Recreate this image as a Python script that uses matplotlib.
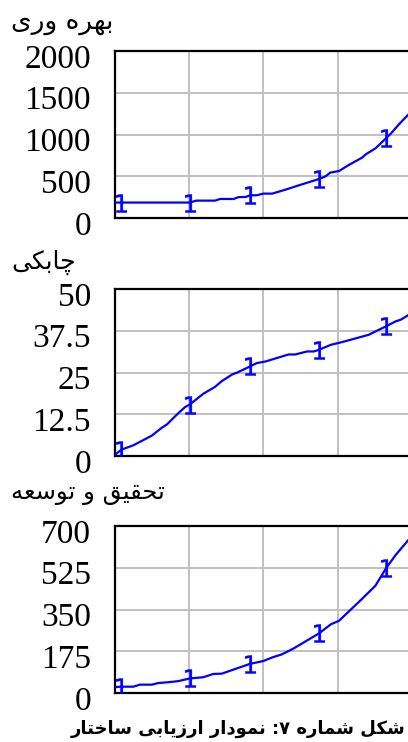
import matplotlib
matplotlib.use('Agg')
import matplotlib.pyplot as plt
from matplotlib.ticker import FormatStrFormatter
from matplotlib.transforms import ScaledTranslation

plt.rcParams['font.family'] = ['Liberation Serif', 'DejaVu Sans']

# time (grid every 10 units)
t_prod = [0, 0.9, 10.1, 11.0, 13.5, 14.2, 16.0, 16.7, 17.6, 18.2, 19.1, 20.0, 21.2,
          23.0, 25.2, 27.5, 28.4, 29.0, 30.2, 31.5, 33.3, 33.8, 35.1, 36.5, 37.2,
          38.3, 39.6]
productivity = [185, 185, 185, 208, 208, 228, 228, 251, 251, 272, 272, 292, 292,
                340, 403, 467, 500, 543, 563, 635, 723, 763, 834, 954, 1014,
                1126, 1246]
mark_prod = [1, 2, 9, 15, 23]

t_agil = [0, 0.9, 2.5, 5.0, 6.3, 7.0, 8.6, 9.5, 10.1, 11.9, 13.5, 14.4, 15.8, 16.4,
          18.2, 19.1, 20.3, 23.4, 24.3, 25.9, 26.8, 27.5, 29.1, 30.6, 34.2, 35.1,
          36.5, 37.8, 38.5, 39.6]
agility = [0.3, 1.9, 3.2, 6.1, 8.4, 9.4, 12.9, 14.7, 15.4, 18.6, 20.7, 22.4, 24.4,
           24.9, 26.8, 27.8, 28.3, 30.4, 30.4, 31.3, 31.3, 31.8, 33.3, 34.1, 36.3,
           37.3, 38.8, 40.3, 40.8, 42.3]
mark_agil = [1, 8, 14, 21, 26]

t_rnd = [0, 0.9, 2.5, 3.4, 5.0, 5.9, 7.2, 8.6, 10.1, 11.9, 13.3, 14.4, 18.2, 20.0,
         21.2, 22.5, 24.1, 27.5, 29.1, 30.2, 32.9, 35.1, 36.5, 37.8, 39.6]
rnd = [25, 26.5, 26.5, 35, 35, 42, 45, 50, 61, 66, 80, 81, 122, 134, 149, 162, 187,
       250, 288, 303, 383, 450, 522, 578, 644]
mark_rnd = [1, 8, 12, 17, 22]

titles = ['بهره وری', 'چابکی', 'تحقیق و توسعه']
yticks = [[0, 500, 1000, 1500, 2000],
          [0, 12.5, 25, 37.5, 50],
          [0, 175, 350, 525, 700]]
caption = 'شکل شماره ۷: نمودار ارزیابی ساختار'

# matplotlib has no arabic shaping: pick presentation forms and reverse by hand
FORMS = {
    '\u0627': ('\uFE8D', '\uFE8E', None, None),
    '\u0628': ('\uFE8F', '\uFE90', '\uFE91', '\uFE92'),
    '\u062A': ('\uFE95', '\uFE96', '\uFE97', '\uFE98'),
    '\u062D': ('\uFEA1', '\uFEA2', '\uFEA3', '\uFEA4'),
    '\u062E': ('\uFEA5', '\uFEA6', '\uFEA7', '\uFEA8'),
    '\u062F': ('\uFEA9', '\uFEAA', None, None),
    '\u0631': ('\uFEAD', '\uFEAE', None, None),
    '\u0632': ('\uFEAF', '\uFEB0', None, None),
    '\u0633': ('\uFEB1', '\uFEB2', '\uFEB3', '\uFEB4'),
    '\u0634': ('\uFEB5', '\uFEB6', '\uFEB7', '\uFEB8'),
    '\u0639': ('\uFEC9', '\uFECA', '\uFECB', '\uFECC'),
    '\u0642': ('\uFED5', '\uFED6', '\uFED7', '\uFED8'),
    '\u0644': ('\uFEDD', '\uFEDE', '\uFEDF', '\uFEE0'),
    '\u0645': ('\uFEE1', '\uFEE2', '\uFEE3', '\uFEE4'),
    '\u0646': ('\uFEE5', '\uFEE6', '\uFEE7', '\uFEE8'),
    '\u0647': ('\uFEE9', '\uFEEA', '\uFEEB', '\uFEEC'),
    '\u0648': ('\uFEED', '\uFEEE', None, None),
    '\u06CC': ('\uFBFC', '\uFBFD', '\uFBFE', '\uFBFF'),
    '\u0686': ('\uFB7A', '\uFB7B', '\uFB7C', '\uFB7D'),
    '\u06A9': ('\uFB8E', '\uFB8F', '\uFB90', '\uFB91'),
}


def shape_fa(s):
    s = s.replace('\u064A', '\u06CC').replace('\u0643', '\u06A9')
    out = []
    for i, ch in enumerate(s):
        if ch not in FORMS:
            out.append(ch)
            continue
        prev = s[i - 1] if i > 0 else ''
        nxt = s[i + 1] if i + 1 < len(s) else ''
        jp = prev in FORMS and FORMS[prev][2] is not None
        jn = nxt in FORMS and FORMS[ch][2] is not None
        iso, fin, ini, med = FORMS[ch]
        if jp and jn:
            out.append(med)
        elif jp:
            out.append(fin)
        elif jn:
            out.append(ini)
        else:
            out.append(iso)
    return ''.join(reversed(out))


W, H = 408, 742
fig = plt.figure(figsize=(W / 100, H / 100), dpi=100)

series = [(t_prod, productivity, mark_prod),
          (t_agil, agility, mark_agil),
          (t_rnd, rnd, mark_rnd)]
tops = [51, 289, 526]
title_y = [22, 262, 493]
title_size = [19, 18, 17.5]
left = 114.7
right = 411.9
ax_h = 167

for k in range(3):
    t, v, m = series[k]
    ax = fig.add_axes([left / W, 1 - (tops[k] + ax_h) / H, (right - left) / W, ax_h / H])
    ax.plot(t, v, color='#0000FF', lw=1.6, marker='$1$', markevery=m,
            markersize=13, markeredgewidth=0.3, zorder=3)
    ax.set_xlim(0, 40)
    ax.set_ylim(yticks[k][0], yticks[k][-1])
    ax.set_xticks([0, 10, 20, 30, 40])
    ax.set_yticks(yticks[k])
    ax.yaxis.set_major_formatter(FormatStrFormatter('%g'))
    ax.tick_params(length=0, labelsize=24, pad=17, labelbottom=False)
    shift = ScaledTranslation(0, -3.5 / 72, fig.dpi_scale_trans)
    for lab in ax.get_yticklabels():
        lab.set_transform(lab.get_transform() + shift)
    ax.grid(True, color='#C0C0C0', lw=1.4)
    for s in ax.spines.values():
        s.set_linewidth(1.6)
        s.set_color('black')
    fig.text(11 / W, 1 - title_y[k] / H, shape_fa(titles[k]),
             family=['DejaVu Sans'], fontsize=title_size[k], ha='left', va='center')

fig.text(405 / W, 1 - 729 / H, shape_fa(caption), family=['DejaVu Sans'],
         fontweight='bold', fontsize=13, ha='right', va='center')

fig.savefig('out.png', dpi=100)
